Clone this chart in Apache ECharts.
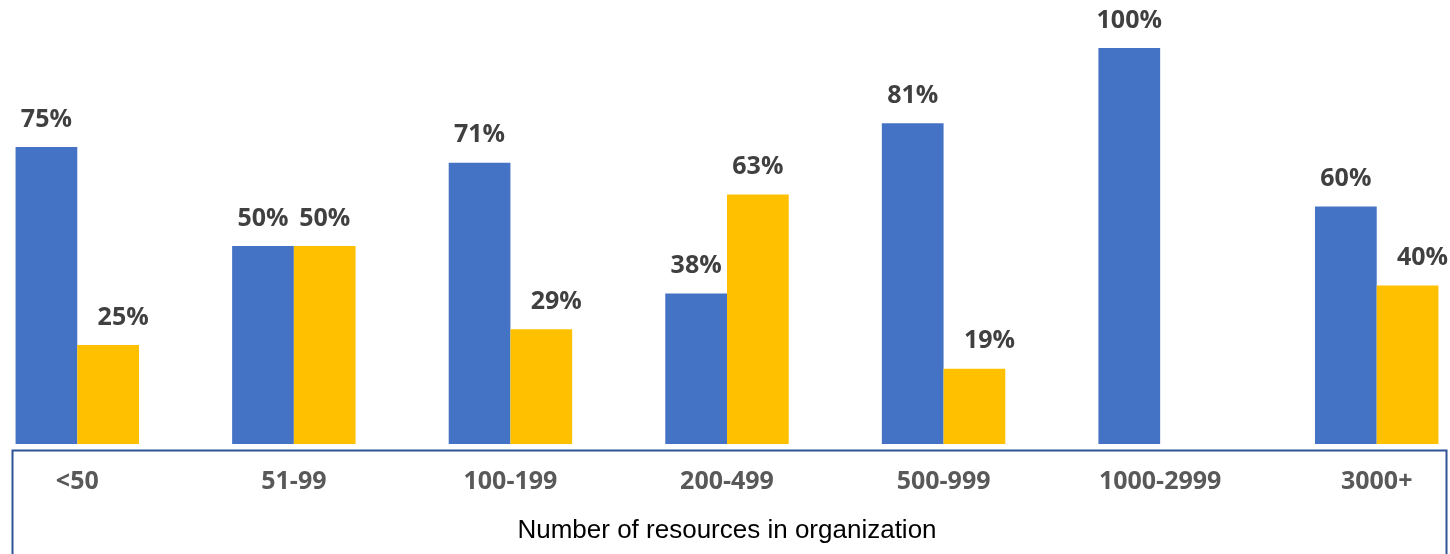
<!DOCTYPE html>
<html>
<head>
<meta charset="utf-8">
<script src="https://cdn.jsdelivr.net/npm/echarts@6/dist/echarts.min.js"></script>
<style>
  html, body { margin: 0; padding: 0; background: #fff; overflow: hidden; }
  /* the original chart is cropped on both sides, so the canvas is wider than the window */
  #chart { width: 1516px; height: 554px; margin-left: -31px; }
</style>
</head>
<body>
<div id="chart"></div>
<script>
// resource-count buckets
const categories = ['<50', '51-99', '100-199', '200-499', '500-999', '1000-2999', '3000+'];
const blueValues = [75, 50, 71, 38, 81, 100, 60];
const yellowValues = [25, 50, 29, 63, 19, null, 40];

const valueLabel = {
  show: true,
  position: 'top',
  distance: 15,
  formatter: '{c}%',
  fontFamily: 'Open Sans',
  fontWeight: 'bold',
  fontSize: 25,
  color: '#404040'
};

// yellow labels next to a taller blue bar are nudged right, like in the original
const yellowData = yellowValues.map((v, i) =>
  v != null && blueValues[i] > v ? { value: v, label: { offset: [15, 0] } } : v
);

const chart = echarts.init(document.getElementById('chart'));
chart.setOption({
  animation: false,
  grid: { left: 0, right: 0, top: 48, bottom: 110, containLabel: false },
  xAxis: {
    type: 'category',
    data: categories,
    axisLine: { show: false },
    axisTick: { show: false },
    axisLabel: {
      margin: 25,
      fontFamily: 'Open Sans',
      fontWeight: 'bold',
      fontSize: 25,
      color: '#595959'
    },
    name: 'Number of resources in organization',
    nameLocation: 'middle',
    nameGap: 74,
    nameTextStyle: { fontFamily: 'Liberation Sans', fontSize: 26, color: '#000' }
  },
  yAxis: { type: 'value', min: 0, max: 100, show: false },
  series: [
    {
      type: 'bar',
      data: blueValues,
      barGap: '0%',
      barCategoryGap: '43%',
      itemStyle: { color: '#4472C4' },
      label: valueLabel
    },
    {
      type: 'bar',
      data: yellowData,
      barGap: '0%',
      barCategoryGap: '43%',
      itemStyle: { color: '#FFC000' },
      label: valueLabel
    }
  ],
  graphic: [{
    type: 'rect',
    left: 41,
    top: 448,
    shape: { width: 1434, height: 120 },
    style: { fill: 'none', stroke: '#2F5597', lineWidth: 2 },
    z: 10
  }]
});
</script>
</body>
</html>
